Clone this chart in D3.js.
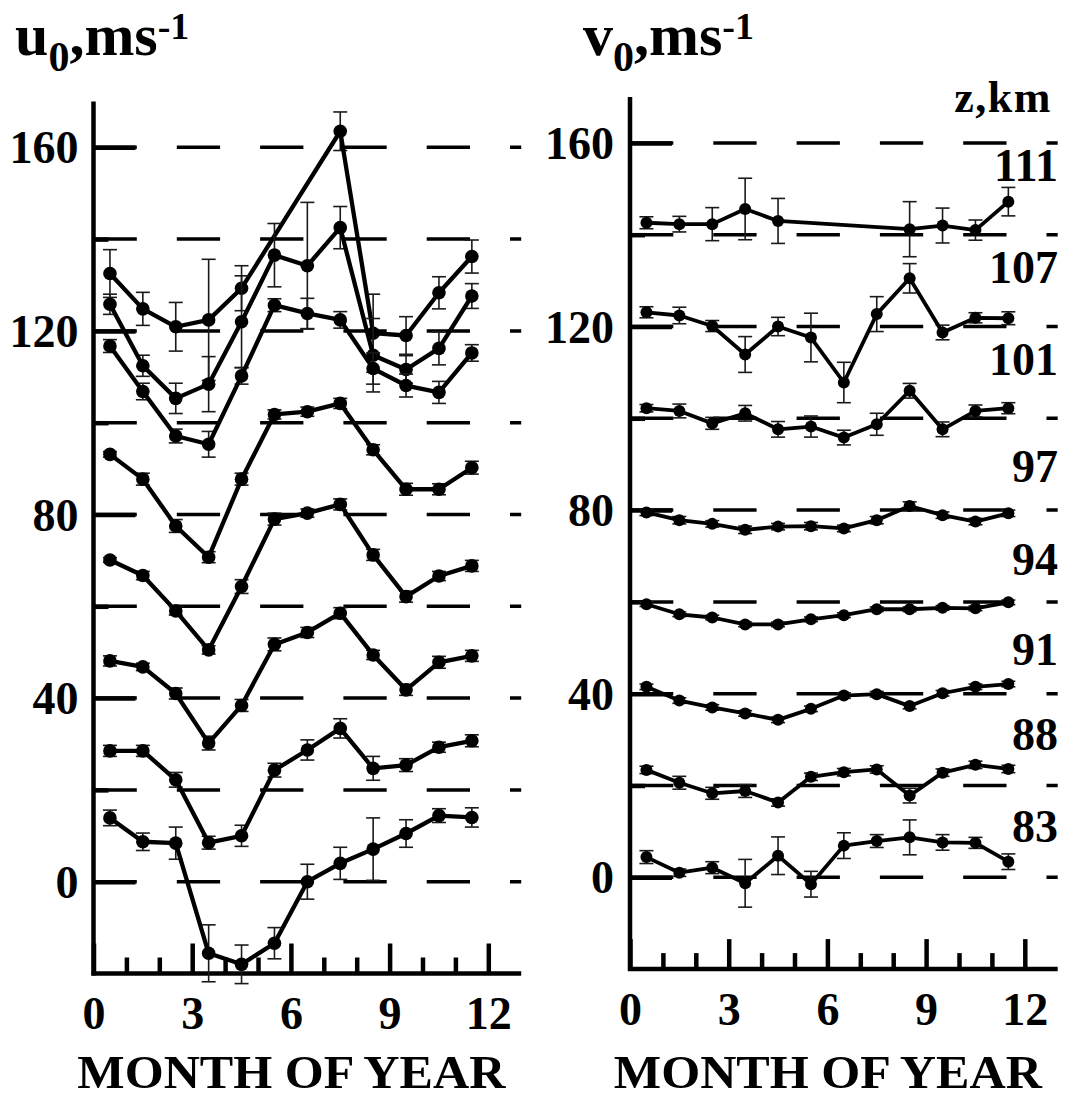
<!DOCTYPE html>
<html>
<head>
<meta charset="utf-8">
<script src="https://cdn.jsdelivr.net/npm/d3@7"></script>
<style>
  html, body { margin: 0; padding: 0; background: #fff; }
  svg { display: block; }
  text { font-family: "Liberation Serif", "Times New Roman", serif; font-weight: bold; fill: #000; }
</style>
</head>
<body>
<svg id="chart" width="1065" height="1099"></svg>
<script>
// Month centres (mid-month) for the monthly means
const months = [0.5, 1.5, 2.5, 3.5, 4.5, 5.5, 6.5, 7.5, 8.5, 9.5, 10.5, 11.5];
const altitudes = [111, 107, 101, 97, 94, 91, 88, 83];
const xTicks = [0, 3, 6, 9, 12];
const yTicks = [0, 40, 80, 120, 160];

// Zonal wind u0 (m/s) by altitude, with standard errors
const u111 = [132.5, 124.8, 120.9, 122.4, 129.3, null, null, 163.5, 119.5, 119.0, 128.3, 136.2];
const u111Err = [5.2, 3.6, 5.3, 13.2, 4.9, null, null, 4.2, 8.5, 4.1, 3.5, 3.6];
const u107 = [125.8, 112.4, 105.3, 108.4, 122.0, 136.5, 134.2, 142.5, 114.7, 111.6, 116.2, 127.6];
const u107Err = [2.2, 2.3, 3.3, 6.0, 10.0, 6.9, 13.8, 4.6, 8.0, 3.0, 3.6, 2.7];
const u101 = [116.7, 106.8, 97.1, 95.3, 110.2, 125.6, 123.8, 122.4, 111.8, 108.1, 106.6, 115.2];
const u101Err = [1.4, 1.8, 1.5, 2.8, 1.8, 1.4, 3.3, 1.8, 3.4, 2.5, 2.4, 1.8];
const u97 = [93.1, 87.7, 77.5, 70.7, 87.7, 101.8, 102.4, 104.2, 94.1, 85.5, 85.5, 90.2];
const u97Err = [0.6, 1.3, 1.4, 1.2, 1.3, 1.0, 1.0, 1.1, 1.1, 1.3, 1.2, 1.4];
const u94 = [70.1, 66.7, 59.0, 50.5, 64.3, 79.0, 80.3, 82.2, 71.2, 62.1, 66.6, 68.8];
const u94Err = [0.5, 0.9, 0.9, 0.9, 1.5, 1.3, 0.9, 1.2, 1.2, 1.2, 1.0, 1.2];
const u91 = [48.1, 46.8, 41.0, 30.2, 38.4, 51.7, 54.3, 58.5, 49.4, 41.8, 47.8, 49.2];
const u91Err = [1.1, 0.8, 1.2, 1.5, 1.3, 1.4, 1.1, 1.2, 1.0, 1.2, 1.3, 1.2];
const u88 = [28.5, 28.5, 22.2, 8.5, 10.0, 24.3, 28.7, 33.4, 24.7, 25.4, 29.3, 30.7];
const u88Err = [1.2, 1.2, 1.6, 1.4, 2.3, 1.5, 2.2, 2.1, 2.6, 1.4, 1.1, 1.3];
const u83 = [13.9, 8.7, 8.4, -15.6, -18.0, -13.4, 0.0, 4.0, 7.1, 10.5, 14.4, 14.0];
const u83Err = [1.7, 1.9, 3.5, 6.2, 4.2, 3.4, 3.8, 3.5, 6.8, 3.0, 1.5, 2.1];

// Meridional wind v0 (m/s) by altitude, with standard errors
const v111 = [142.6, 142.3, 142.3, 145.6, 143.0, null, null, null, 141.2, 142.0, 141.0, 147.2];
const v111Err = [1.3, 1.7, 3.6, 6.7, 4.9, null, null, null, 6.0, 3.8, 2.2, 3.1];
const v107 = [123.1, 122.4, 120.1, 113.9, 120.0, 117.6, 107.8, 122.7, 130.5, 118.7, 121.9, 121.8];
const v107Err = [1.2, 1.8, 1.2, 3.9, 2.0, 5.3, 4.4, 3.8, 3.2, 1.6, 1.1, 1.4];
const v101 = [102.2, 101.6, 98.9, 101.1, 97.6, 98.2, 95.8, 98.7, 106.0, 97.6, 101.6, 102.2];
const v101Err = [0.8, 1.5, 1.3, 1.7, 1.7, 2.3, 1.6, 2.4, 1.6, 1.6, 1.3, 1.2];
const v97 = [79.5, 77.8, 77.0, 75.7, 76.4, 76.5, 76.0, 77.8, 80.9, 78.9, 77.5, 79.3];
const v97Err = [0.7, 0.8, 0.7, 0.8, 0.7, 0.8, 0.7, 0.8, 0.9, 0.7, 0.7, 0.7];
const v94 = [59.5, 57.3, 56.6, 55.1, 55.1, 56.2, 57.1, 58.4, 58.4, 58.7, 58.6, 59.9];
const v94Err = [0.5, 0.5, 0.5, 0.5, 0.5, 0.5, 0.5, 0.5, 0.5, 0.5, 0.5, 0.5];
const v91 = [41.5, 38.5, 37.0, 35.7, 34.3, 36.7, 39.6, 39.9, 37.3, 40.1, 41.5, 42.1];
const v91Err = [0.6, 0.6, 0.6, 0.6, 0.6, 0.6, 0.6, 0.6, 0.6, 0.6, 0.6, 0.6];
const v88 = [23.4, 20.6, 18.3, 18.8, 16.3, 21.9, 22.9, 23.5, 17.8, 22.8, 24.5, 23.6];
const v88Err = [0.8, 1.4, 1.3, 1.4, 0.8, 0.8, 0.8, 0.8, 1.6, 0.8, 0.8, 0.8];
const v83 = [4.4, 1.0, 2.1, -1.3, 4.7, -1.5, 6.9, 7.9, 8.7, 7.6, 7.5, 3.4];
const v83Err = [1.4, 0.8, 1.3, 5.2, 4.1, 2.8, 2.8, 1.4, 3.8, 1.7, 1.2, 1.7];

const uSeries = [[u111, u111Err], [u107, u107Err], [u101, u101Err], [u97, u97Err],
                 [u94, u94Err], [u91, u91Err], [u88, u88Err], [u83, u83Err]];
const vSeries = [[v111, v111Err], [v107, v107Err], [v101, v101Err], [v97, v97Err],
                 [v94, v94Err], [v91, v91Err], [v88, v88Err], [v83, v83Err]];

// Baselines (in v0 units) where the altitude labels sit on the right panel
const altLabelLevels = [151.6, 129.4, 109.4, 86.1, 65.8, 46.2, 27.7, 7.7];

const svg = d3.select("#chart");
svg.append("rect").attr("width", 1065).attr("height", 1099).attr("fill", "#fff");

function drawPanel(opts) {
  const { x, y, series, dotR, lineW, labelRight } = opts;
  const g = svg.append("g");
  const x1 = x.range()[1];

  // dashed reference levels every 20 m/s
  g.append("g").selectAll("line")
    .data(d3.range(0, 161, 20))
    .join("line")
    .attr("x1", x(0)).attr("x2", x1)
    .attr("y1", d => y(d)).attr("y2", d => y(d))
    .attr("stroke", "#000").attr("stroke-width", 3.5)
    .attr("stroke-dasharray", "43.3,40");

  // y axis: labelled major ticks and short minor ticks pointing inward
  const yAxis = d3.axisLeft(y).tickValues(yTicks).tickSizeInner(-42).tickSizeOuter(0)
    .tickPadding(labelRight).tickFormat(d3.format("d"));
  const yg = g.append("g").attr("transform", `translate(${x(0)},0)`).call(yAxis)
    .attr("font-family", null).attr("font-size", null);
  yg.select(".domain").remove();
  yg.selectAll(".tick line").attr("stroke", "#000").attr("stroke-width", 4.5);
  yg.selectAll(".tick text").attr("font-size", 46).attr("dy", "0.34em");

  const yMinor = d3.axisLeft(y).tickValues([20, 60, 100, 140]).tickSizeInner(-15).tickSizeOuter(0).tickFormat("");
  const ymg = g.append("g").attr("transform", `translate(${x(0)},0)`).call(yMinor);
  ymg.select(".domain").remove();
  ymg.selectAll(".tick line").attr("stroke", "#000").attr("stroke-width", 4.5);

  // x axis: long ticks every 3 months, short ticks every month
  const xAxis = d3.axisBottom(x).tickValues(xTicks).tickSizeInner(-30).tickSizeOuter(0)
    .tickPadding(23).tickFormat(d3.format("d"));
  const xg = g.append("g").attr("transform", `translate(0,${y(-20)})`).call(xAxis)
    .attr("font-family", null).attr("font-size", null);
  xg.select(".domain").remove();
  xg.selectAll(".tick line").attr("stroke", "#000").attr("stroke-width", 4.5);
  xg.selectAll(".tick text").attr("font-size", 46);

  const xMinor = d3.axisBottom(x).tickValues(d3.range(0, 13).filter(d => d % 3 !== 0))
    .tickSizeInner(-16).tickSizeOuter(0).tickFormat("");
  const xmg = g.append("g").attr("transform", `translate(0,${y(-20)})`).call(xMinor);
  xmg.select(".domain").remove();
  xmg.selectAll(".tick line").attr("stroke", "#000").attr("stroke-width", 4.5);

  // axis frame lines
  g.append("line").attr("x1", x(0)).attr("x2", x(0)).attr("y1", y(-20) + 2).attr("y2", y(170))
    .attr("stroke", "#000").attr("stroke-width", 4.5);
  g.append("line").attr("x1", x(0) - 2).attr("x2", x1).attr("y1", y(-20)).attr("y2", y(-20))
    .attr("stroke", "#000").attr("stroke-width", 4.5);

  const line = d3.line().x(d => x(d.m)).y(d => y(d.v));

  series.forEach(([vals, errs]) => {
    const pts = months.map((m, i) => ({ m, v: vals[i], e: errs[i] })).filter(d => d.v !== null);
    const eb = g.append("g").attr("stroke", "#1a1a1a").attr("stroke-width", 1.6);
    pts.forEach(d => {
      const cx = x(d.m), top = y(d.v + d.e), bot = y(d.v - d.e);
      eb.append("line").attr("x1", cx).attr("x2", cx).attr("y1", top).attr("y2", bot);
      eb.append("line").attr("x1", cx - 7).attr("x2", cx + 7).attr("y1", top).attr("y2", top);
      eb.append("line").attr("x1", cx - 7).attr("x2", cx + 7).attr("y1", bot).attr("y2", bot);
    });
    g.append("path").datum(pts).attr("d", line)
      .attr("fill", "none").attr("stroke", "#000").attr("stroke-width", lineW)
      .attr("stroke-linejoin", "round");
    g.append("g").selectAll("circle").data(pts).join("circle")
      .attr("cx", d => x(d.m)).attr("cy", d => y(d.v)).attr("r", dotR).attr("fill", "#000");
  });

  // x axis title
  g.append("text").attr("x", (x(0) + x1) / 2 - 16).attr("y", 1088)
    .attr("text-anchor", "middle").attr("font-size", 46)
    .attr("textLength", 428).attr("lengthAdjust", "spacingAndGlyphs")
    .text("MONTH OF YEAR");
  return g;
}

const xL = d3.scaleLinear([0, 13], [93.5, 521.2]);
const yL = d3.scaleLinear([-20, 170], [973.5, 101.4]);
const xR = d3.scaleLinear([0, 13], [630, 1057.7]);
const yR = d3.scaleLinear([-20, 170], [969.1, 97]);

drawPanel({ x: xL, y: yL, series: uSeries, dotR: 6.8, lineW: 4.3, labelRight: 15 });
const right = drawPanel({ x: xR, y: yR, series: vSeries, dotR: 6, lineW: 3.8, labelRight: 16 });

// panel titles with subscript and superscript
function title(x0, letter) {
  const t = svg.append("text").attr("x", x0).attr("y", 55).attr("font-size", 60);
  t.append("tspan").text(letter);
  t.append("tspan").attr("font-size", 42).attr("dy", 16).text("0");
  t.append("tspan").attr("font-size", 60).attr("dy", -16).text(",ms");
  t.append("tspan").attr("font-size", 38).attr("dy", -16).text("-1");
}
title(15, "u");
title(583, "v");

// altitude labels (km)
right.append("text").attr("x", 1052).attr("y", 111.7).attr("text-anchor", "end")
  .attr("font-size", 44).attr("letter-spacing", 1.5).text("z,km");
right.append("g").selectAll("text").data(altitudes).join("text")
  .attr("x", 1058).attr("y", (d, i) => yR(altLabelLevels[i]))
  .attr("text-anchor", "end").attr("font-size", 46)
  .text(d => d);
</script>
</body>
</html>
